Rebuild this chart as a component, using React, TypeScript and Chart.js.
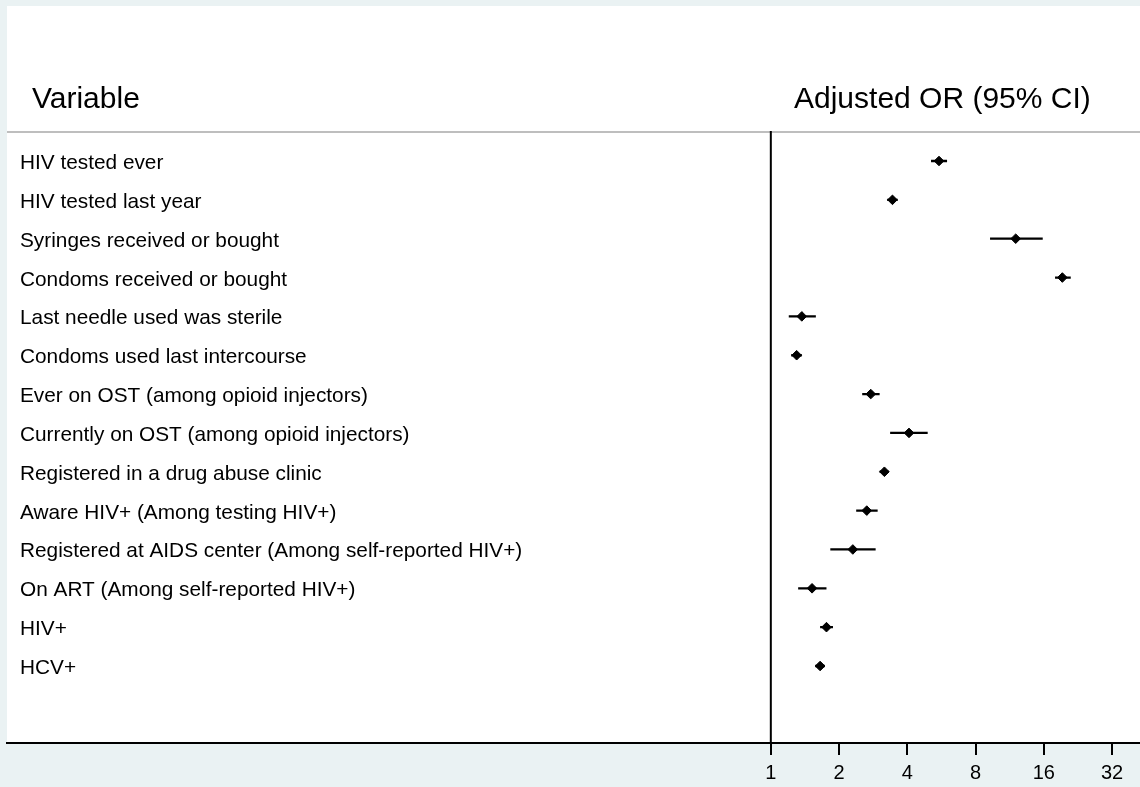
import React, { useEffect, useRef } from 'react';
import { Chart, registerables } from 'chart.js';

Chart.register(...registerables);

const variables = [
  'HIV tested ever',
  'HIV tested last year',
  'Syringes received or bought',
  'Condoms received or bought',
  'Last needle used was sterile',
  'Condoms used last intercourse',
  'Ever on OST (among opioid injectors)',
  'Currently on OST (among opioid injectors)',
  'Registered in a drug abuse clinic',
  'Aware HIV+ (Among testing HIV+)',
  'Registered at AIDS center (Among self-reported HIV+)',
  'On ART (Among self-reported HIV+)',
  'HIV+',
  'HCV+',
];

const oddsRatios = [5.52, 3.44, 12.03, 19.32, 1.37, 1.3, 2.76, 4.07, 3.17, 2.65, 2.3, 1.52, 1.76, 1.65];
const ciLower = [5.09, 3.26, 9.27, 17.94, 1.2, 1.23, 2.53, 3.36, 3.02, 2.38, 1.83, 1.32, 1.65, 1.57];
const ciUpper = [5.99, 3.63, 15.83, 21.04, 1.58, 1.37, 3.02, 4.92, 3.31, 2.96, 2.9, 1.76, 1.88, 1.73];

const xTickValues = [1, 2, 4, 8, 16, 32];
const headerLeft = 'Variable';
const headerRight = 'Adjusted OR (95% CI)';

const FONT = "'Liberation Sans', Arial, Helvetica, sans-serif";
const BG = '#EAF2F3';

export default function App() {
  const canvasRef = useRef<HTMLCanvasElement | null>(null);

  useEffect(() => {
    document.body.style.margin = '0';
    document.body.style.background = BG;
    const canvas = canvasRef.current;
    if (!canvas) return;

    const ciData: { x: number | null; y: number | null }[] = [];
    variables.forEach((_, i) => {
      ciData.push({ x: ciLower[i], y: i });
      ciData.push({ x: ciUpper[i], y: i });
      ciData.push({ x: null, y: null });
    });
    const pointData = variables.map((_, i) => ({ x: oddsRatios[i], y: i }));

    const decor = {
      id: 'forestDecor',
      beforeDraw(chart: any) {
        const ctx = chart.ctx as CanvasRenderingContext2D;
        const area = chart.chartArea;
        const yScale = chart.scales.y;
        ctx.save();
        ctx.fillStyle = BG;
        ctx.fillRect(0, 0, chart.width, chart.height);
        ctx.fillStyle = '#FFFFFF';
        ctx.fillRect(area.left, 6, chart.width - area.left, area.bottom - 6);
        // headers
        ctx.fillStyle = '#000';
        ctx.textBaseline = 'alphabetic';
        ctx.textAlign = 'left';
        ctx.font = `30px ${FONT}`;
        ctx.fillText(headerLeft, 32, 108);
        ctx.fillText(headerRight, 794, 108);
        // gray separator
        ctx.fillStyle = '#BEBEBE';
        ctx.fillRect(area.left, area.top, chart.width - area.left, 2);
        // row labels
        ctx.fillStyle = '#000';
        ctx.font = `20.8px ${FONT}`;
        variables.forEach((v, i) => {
          const y = yScale.getPixelForValue(i);
          ctx.fillText(v, 20, y + 8);
        });
        ctx.restore();
      },
      beforeDatasetsDraw(chart: any) {
        const ctx = chart.ctx as CanvasRenderingContext2D;
        const area = chart.chartArea;
        const x = chart.scales.x.getPixelForValue(1);
        ctx.save();
        ctx.strokeStyle = '#000';
        ctx.lineWidth = 2;
        ctx.beginPath();
        ctx.moveTo(x, area.top);
        ctx.lineTo(x, area.bottom);
        ctx.stroke();
        ctx.restore();
      },
    };

    const chart = new Chart(canvas, {
      type: 'scatter',
      data: {
        datasets: [
          {
            label: 'OR',
            data: pointData,
            pointStyle: 'rectRot',
            pointRadius: 4.8,
            pointBorderWidth: 1,
            backgroundColor: '#000',
            borderColor: '#000',
            order: 0,
          },
          {
            label: 'CI',
            data: ciData as any,
            showLine: true,
            spanGaps: false,
            pointRadius: 0,
            borderWidth: 2.3,
            borderColor: '#000',
            backgroundColor: '#000',
            order: 1,
          },
        ],
      },
      options: {
        animation: false,
        responsive: true,
        maintainAspectRatio: false,
        layout: { autoPadding: false, padding: { left: 7, top: 131, right: 0, bottom: 0 } },
        plugins: {
          legend: { display: false },
          tooltip: { enabled: false },
          title: { display: false },
        },
        scales: {
          x: {
            type: 'logarithmic',
            position: 'bottom',
            min: Math.pow(2, -11.193),
            max: Math.pow(2, 5.41),
            afterBuildTicks: (scale: any) => {
              scale.ticks = xTickValues.map((v) => ({ value: v }));
            },
            afterFit: (scale: any) => {
              scale.height = 44;
              scale.paddingLeft = 0;
              scale.paddingRight = 0;
            },
            ticks: {
              callback: (v: any) => String(v),
              autoSkip: false,
              maxRotation: 0,
              padding: 6,
              color: '#000',
              font: { family: FONT, size: 20 },
            },
            grid: {
              display: true,
              drawOnChartArea: false,
              drawTicks: true,
              tickLength: 12,
              color: '#000',
              lineWidth: 2,
            },
            border: { display: true, color: '#000', width: 2 },
          },
          y: {
            type: 'linear',
            display: false,
            reverse: true,
            min: -0.772,
            max: 14.982,
          },
        },
      },
      plugins: [decor],
    });

    return () => chart.destroy();
  }, []);

  return (
    <div style={{ position: 'relative', width: 1140, height: 787 }}>
      <canvas ref={canvasRef} />
    </div>
  );
}
